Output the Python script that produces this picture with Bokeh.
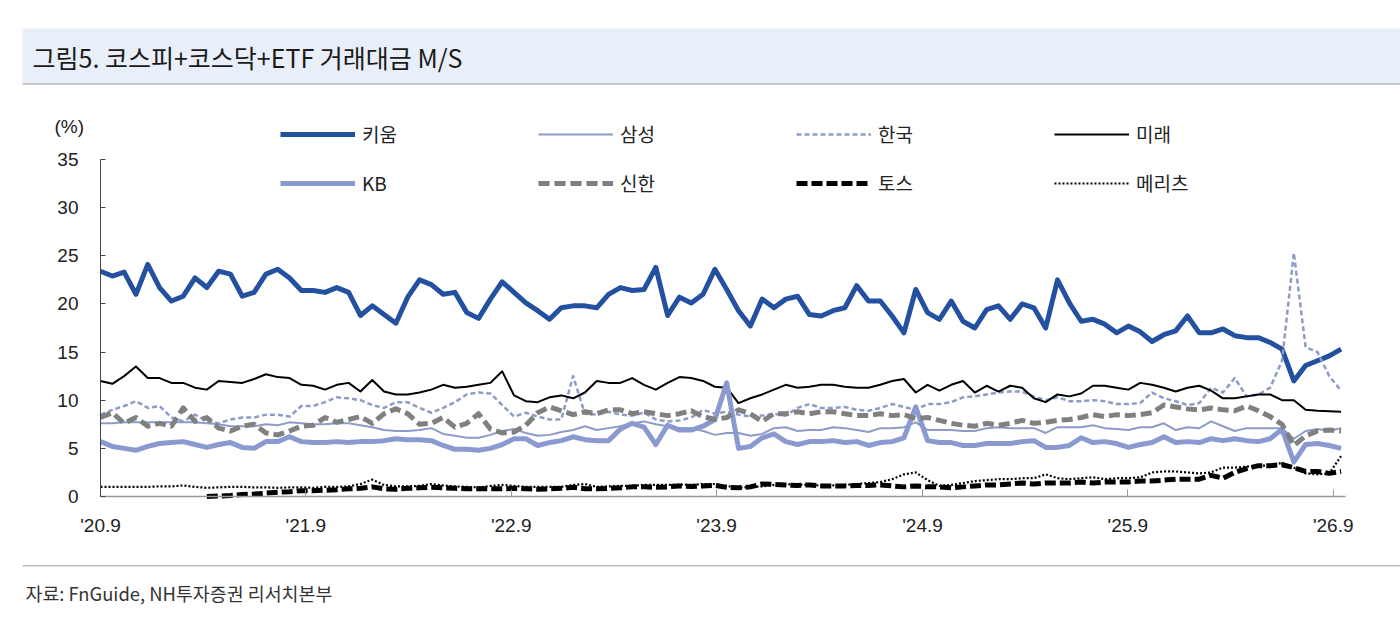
import pandas as pd
from bokeh.plotting import figure
from bokeh.models import (Range1d, FixedTicker, Label, BoxAnnotation, Legend, LegendItem)
from bokeh.embed import file_html
from bokeh.resources import INLINE

# 3-weekly observations, Sep 2020 ~ Sep 2026 (%)
dates = pd.date_range("2020-09-01", periods=106, freq="21D")

kiwoom = [23.4, 22.9, 23.3, 21.0, 24.1, 21.7, 20.3, 20.8, 22.7, 21.7, 23.4, 23.1, 20.8, 21.2, 23.1, 23.6, 22.7, 21.4,
          21.4, 21.2, 21.7, 21.2, 18.8, 19.8, 18.9, 18.0, 20.7, 22.5, 22.0, 21.0, 21.2, 19.1, 18.5, 20.5, 22.3, 21.2,
          20.1, 19.3, 18.4, 19.6, 19.8, 19.8, 19.6, 21.0, 21.7, 21.4, 21.5, 23.8, 18.8, 20.7, 20.1, 21.0, 23.6,
          21.5, 19.3, 17.7, 20.5, 19.6, 20.5, 20.8, 18.9, 18.75, 19.3, 19.6, 21.9, 20.3, 20.3, 18.75, 17.0, 21.5,
          19.1, 18.4, 20.3, 18.2, 17.5, 19.4, 19.8, 18.4, 20.0, 19.6, 17.5, 22.5, 20.1, 18.2, 18.4, 17.9, 17.0, 17.7,
          17.1, 16.1, 16.8, 17.2, 18.75, 17.0, 17.0, 17.4, 16.7, 16.5, 16.5, 16.0, 15.3, 12.0, 13.6, 14.1, 14.6, 15.3]
samsung = [7.6, 7.6, 7.7, 7.7, 7.7, 7.7, 7.7, 7.7, 7.7, 7.6, 7.5, 7.3, 7.3, 7.3, 7.5, 7.4, 7.7, 7.6,
           7.5, 7.5, 7.6, 7.6, 7.4, 7.2, 6.9, 6.8, 6.8, 6.9, 7.1, 6.5, 6.3, 6.1, 6.1, 6.4, 6.8, 7.0,
           6.6, 6.3, 6.4, 6.7, 6.9, 7.3, 6.9, 7.1, 7.3, 7.6, 7.8, 7.5, 7.3, 7.1, 7.1, 6.8, 6.4,
           6.6, 6.6, 6.3, 6.5, 7.1, 7.2, 6.8, 6.9, 6.9, 7.2, 7.1, 6.9, 6.7, 7.1, 7.1, 7.2, 7.7,
           6.9, 6.9, 6.9, 6.8, 6.8, 7.1, 7.2, 7.1, 7.1, 7.1, 6.6, 7.2, 7.2, 7.2, 7.4, 7.1, 7.0, 6.9,
           7.2, 7.2, 7.6, 6.9, 7.2, 7.1, 7.8, 7.3, 6.8, 7.1, 7.1, 7.1, 7.1, 6.0, 6.8, 7.0, 6.8, 7.1]
korea = [8.5, 9.0, 9.4, 9.9, 9.2, 9.4, 8.2, 7.8, 8.5, 7.8, 7.6, 8.0, 8.2, 8.2, 8.5, 8.5, 8.3, 9.4,
         9.4, 9.8, 10.3, 10.2, 10.0, 9.5, 9.2, 9.8, 9.8, 9.2, 8.7, 9.2, 9.8, 10.6, 10.8, 10.7, 9.5, 8.3,
         8.7, 8.3, 8.0, 8.0, 12.5, 8.6, 8.5, 8.8, 8.5, 8.4, 8.7, 8.0, 7.8, 7.9, 8.2, 9.0, 8.6,
         8.8, 8.5, 8.3, 8.4, 8.6, 8.4, 9.2, 9.6, 9.2, 9.2, 9.3, 9.0, 8.9, 9.2, 9.6, 9.3, 9.0,
         9.6, 9.6, 9.8, 10.3, 10.4, 10.6, 10.8, 10.9, 10.9, 10.4, 10.0, 10.3, 9.9, 9.9, 10.0, 9.9, 9.6, 9.6,
         9.7, 10.8, 10.2, 9.9, 9.5, 9.7, 11.3, 10.8, 12.3, 10.4, 10.6, 11.3, 14.1, 25.3, 15.5, 15.0, 12.5, 11.0]
mirae = [12.0, 11.7, 12.5, 13.5, 12.3, 12.3, 11.8, 11.8, 11.3, 11.1, 12.0, 11.9, 11.8, 12.2, 12.7, 12.4, 12.3, 11.6,
         11.5, 11.1, 11.6, 11.8, 10.9, 12.1, 10.9, 10.6, 10.6, 10.8, 11.1, 11.6, 11.3, 11.4, 11.6, 11.8, 13.0, 10.5,
         9.9, 9.8, 10.3, 10.5, 10.2, 10.8, 12.0, 11.8, 11.8, 12.3, 11.6, 11.1, 11.8, 12.4, 12.3, 12.0, 11.4,
         11.3, 9.7, 10.2, 10.6, 11.1, 11.6, 11.3, 11.4, 11.6, 11.6, 11.4, 11.3, 11.3, 11.6, 12.0, 12.2, 10.8,
         11.6, 11.0, 11.6, 12.0, 10.8, 11.5, 10.9, 11.5, 11.3, 10.2, 9.8, 10.6, 10.4, 10.7, 11.5, 11.5, 11.3, 11.1,
         11.8, 11.6, 11.3, 10.9, 11.3, 11.5, 11.0, 10.2, 10.2, 10.4, 10.6, 10.6, 10.0, 10.0, 9.0, 8.9, 8.85, 8.8]
kb = [5.7, 5.2, 5.0, 4.8, 5.2, 5.5, 5.6, 5.7, 5.4, 5.1, 5.4, 5.6, 5.1, 5.0, 5.7, 5.7, 6.2, 5.7,
      5.6, 5.6, 5.7, 5.6, 5.7, 5.7, 5.8, 6.0, 5.9, 5.9, 5.8, 5.3, 4.9, 4.9, 4.8, 5.0, 5.4, 6.0,
      6.0, 5.3, 5.6, 5.8, 6.2, 5.9, 5.8, 5.8, 7.0, 7.6, 7.2, 5.4, 7.4, 6.9, 6.9, 7.3, 8.0,
      11.8, 5.0, 5.2, 6.1, 6.5, 5.7, 5.4, 5.7, 5.7, 5.8, 5.6, 5.7, 5.3, 5.6, 5.7, 6.1, 9.3,
      5.8, 5.6, 5.6, 5.3, 5.3, 5.5, 5.5, 5.5, 5.7, 5.8, 5.1, 5.1, 5.3, 6.1, 5.6, 5.7, 5.5, 5.1,
      5.4, 5.6, 6.2, 5.6, 5.7, 5.6, 6.0, 5.8, 6.0, 5.8, 5.7, 6.0, 7.0, 3.6, 5.4, 5.5, 5.3, 5.0]
shinhan = [8.2, 8.7, 7.6, 8.2, 7.3, 7.6, 7.3, 9.2, 7.8, 8.2, 7.1, 6.8, 7.3, 7.5, 6.6, 6.4, 6.8, 7.3,
           7.4, 8.2, 7.7, 8.0, 8.3, 7.6, 8.6, 9.1, 8.6, 7.5, 7.6, 8.2, 7.2, 7.6, 8.6, 7.0, 6.6, 6.7,
           7.4, 8.7, 9.3, 8.9, 8.5, 8.8, 8.6, 9.0, 9.0, 8.6, 8.8, 8.6, 8.4, 8.6, 8.9, 8.3, 8.0,
           8.2, 9.0, 8.6, 7.8, 8.6, 8.6, 8.8, 8.6, 8.8, 8.8, 8.6, 8.4, 8.4, 8.6, 8.4, 8.5, 8.1,
           8.2, 7.9, 7.6, 7.4, 7.3, 7.6, 7.4, 7.6, 7.9, 7.6, 7.7, 7.9, 8.0, 8.2, 8.5, 8.3, 8.5, 8.4,
           8.5, 8.7, 9.5, 9.3, 9.1, 9.0, 9.2, 9.0, 8.9, 9.4, 8.9, 8.3, 7.5, 5.3, 6.3, 6.8, 6.9, 6.8]
toss = [None] * 9 + [0.0, 0.05, 0.1, 0.2, 0.25, 0.35, 0.45, 0.5, 0.6,
        0.6, 0.65, 0.7, 0.8, 0.85, 1.0, 0.8, 0.75, 0.85, 0.9, 0.95, 0.9, 0.85, 0.8, 0.8, 0.8, 0.8, 0.85,
        0.8, 0.75, 0.8, 0.85, 0.95, 0.8, 0.8, 0.85, 0.9, 1.0, 1.0, 0.95, 1.0, 1.1, 1.05, 1.1, 1.15,
        0.95, 0.9, 1.0, 1.3, 1.25, 1.2, 1.15, 1.2, 1.1, 1.1, 1.1, 1.15, 1.15, 1.2, 1.1, 1.0, 1.1,
        1.0, 1.0, 0.9, 1.0, 1.1, 1.2, 1.2, 1.3, 1.4, 1.3, 1.4, 1.4, 1.4, 1.5, 1.4, 1.5, 1.5, 1.5,
        1.6, 1.6, 1.7, 1.8, 1.8, 1.8, 2.2, 1.9, 2.5, 2.9, 3.2, 3.2, 3.3, 3.0, 2.6, 2.6, 2.4, 2.6]
meritz = [1.0, 1.0, 1.0, 1.0, 1.0, 1.05, 1.05, 1.15, 1.0, 0.9, 0.95, 1.0, 1.0, 0.95, 0.95, 0.9, 0.95, 0.95,
          0.9, 1.0, 1.0, 1.05, 1.3, 1.75, 1.2, 1.05, 1.05, 1.1, 1.3, 1.15, 1.05, 1.0, 0.95, 1.1, 1.2, 1.1,
          1.0, 1.0, 1.0, 1.0, 1.2, 1.3, 1.0, 1.05, 1.1, 1.1, 1.2, 1.2, 1.2, 1.25, 1.2, 1.3, 1.3,
          1.1, 0.9, 1.0, 1.05, 1.2, 1.25, 1.25, 1.2, 1.15, 1.15, 1.2, 1.3, 1.4, 1.5, 1.8, 2.3, 2.5,
          1.7, 1.1, 1.2, 1.4, 1.6, 1.7, 1.8, 1.8, 1.9, 1.9, 2.3, 1.9, 1.8, 1.9, 2.0, 1.8, 1.9, 1.9,
          2.0, 2.5, 2.6, 2.6, 2.5, 2.4, 2.5, 3.0, 3.0, 3.1, 3.2, 3.2, 3.5, 3.0, 2.4, 2.3, 2.4, 4.2]

tick_dates = pd.to_datetime(["2020-09-01", "2021-09-01", "2022-09-01", "2023-09-01",
                             "2024-09-01", "2025-09-01", "2026-09-01"])
tick_labels = ["'20.9", "'21.9", "'22.9", "'23.9", "'24.9", "'25.9", "'26.9"]
y_ticks = [0, 5, 10, 15, 20, 25, 30, 35]

KR = "Noto Sans CJK KR"
NUM = "'Liberation Sans Narrow', 'Liberation Sans', sans-serif"

W, H = 1400, 620
PX_PER_DAY = 205.5 / 365.25   # one year = 205.5 px
PX_PER_PCT = 337 / 35         # 0..35 % = 337 px
AX_X, AX_Y = 100, 496         # page position of the axes corner


def ms(ts):
    return int(pd.Timestamp(ts).value // 10**6)


day = pd.Timedelta(days=1)
x_start = dates[0] - day * (AX_X / PX_PER_DAY)
x_end = dates[0] + day * ((W - AX_X) / PX_PER_DAY)
y_top = AX_Y / PX_PER_PCT
y_bottom = -(H - AX_Y) / PX_PER_PCT

p = figure(width=W, height=H, x_axis_type="datetime", output_backend="svg",
           toolbar_location=None, min_border=0,
           min_border_left=0, min_border_right=0, min_border_top=0, min_border_bottom=0)
p.x_range = Range1d(x_start, x_end)
p.y_range = Range1d(y_bottom, y_top)
p.outline_line_color = None
p.grid.visible = False
p.background_fill_color = "white"
p.border_fill_color = "white"

series = [
    ("키움", kiwoom, dict(line_color="#2450a0", line_width=5)),
    ("삼성", samsung, dict(line_color="#8d9bc8", line_width=2)),
    ("한국", korea, dict(line_color="#8d9bc8", line_width=2.5, line_dash="5 3")),
    ("미래", mirae, dict(line_color="black", line_width=2)),
    ("KB", kb, dict(line_color="#8a9ad0", line_width=5)),
    ("신한", shinhan, dict(line_color="#808080", line_width=5, line_dash="11 5")),
    ("토스", toss, dict(line_color="black", line_width=5, line_dash="11 4")),
    ("메리츠", meritz, dict(line_color="black", line_width=2.2, line_dash="2 2")),
]
items = []
for name, vals, style in series:
    r = p.line(dates, [float("nan") if v is None else v for v in vals], line_join="round", **style)
    items.append(LegendItem(label=name, renderers=[r]))

legend = Legend(items=items, ncols=4, orientation="horizontal", location=(280, 424),
                glyph_width=75, glyph_height=20, label_height=20, label_width=154,
                label_standoff=7, spacing=22, padding=0, margin=0,
                label_text_font=KR, label_text_font_size="19px", label_text_color="#222222",
                background_fill_alpha=0, border_line_color=None)
p.add_layout(legend)

# axes drawn at the data origin, limited to the data extent
p.xaxis.fixed_location = 0
p.xaxis.bounds = (ms(dates[0]), ms(dates[0] + day * 2212))
p.xaxis.ticker = FixedTicker(ticks=[ms(t) for t in tick_dates])
p.xaxis.major_label_overrides = {ms(t): s for t, s in zip(tick_dates, tick_labels)}
p.xaxis.axis_line_color = "#999999"
p.xaxis.axis_line_width = 1.5
p.xaxis.major_tick_line_color = "#999999"
p.xaxis.major_tick_in = 7
p.xaxis.major_tick_out = 0
p.xaxis.minor_tick_line_color = None
p.xaxis.major_label_standoff = 18

p.yaxis.fixed_location = ms(dates[0])
p.yaxis.bounds = (0, 35)
p.yaxis.ticker = FixedTicker(ticks=y_ticks)
p.yaxis.axis_line_color = "#444444"
p.yaxis.major_tick_line_color = "#444444"
p.yaxis.major_tick_in = 5
p.yaxis.major_tick_out = 0
p.yaxis.minor_tick_line_color = None
p.yaxis.major_label_standoff = 22
for ax in (p.xaxis, p.yaxis):
    ax.major_label_text_font = NUM
    ax.major_label_text_font_size = "19px"
    ax.major_label_text_color = "#222222"


# frame-relative screen units (frame = whole canvas)
def sy(py):
    return H - py


def band(x0, x1, y0, y1, color, level="annotation"):
    return BoxAnnotation(left=x0, right=x1, bottom=sy(y1), top=sy(y0),
                         left_units="screen", right_units="screen",
                         bottom_units="screen", top_units="screen",
                         fill_color=color, fill_alpha=1, line_color=None, level=level)


p.add_layout(band(22, W, 28, 83, "#e9eff8", level="underlay"))
p.add_layout(band(22, W, 82.5, 84.5, "#c8c8c8"))
p.add_layout(band(22, W, 564.5, 566, "#bdbdbd"))
p.add_layout(Label(x=32, y=sy(56), x_units="screen", y_units="screen",
                   text="그림5. 코스피+코스닥+ETF 거래대금 M/S", text_font=KR, text_font_size="25px",
                   text_color="#1a1a1a", text_baseline="middle"))
p.add_layout(Label(x=25, y=sy(592), x_units="screen", y_units="screen",
                   text="자료: FnGuide, NH투자증권 리서치본부", text_font=KR, text_font_size="18.4px",
                   text_color="#333333", text_baseline="middle"))
p.add_layout(Label(x=54, y=sy(126), x_units="screen", y_units="screen",
                   text="(%)", text_font=NUM, text_font_size="19px",
                   text_color="#222222", text_baseline="middle"))

open("out.html", "w").write(file_html(p, INLINE))
